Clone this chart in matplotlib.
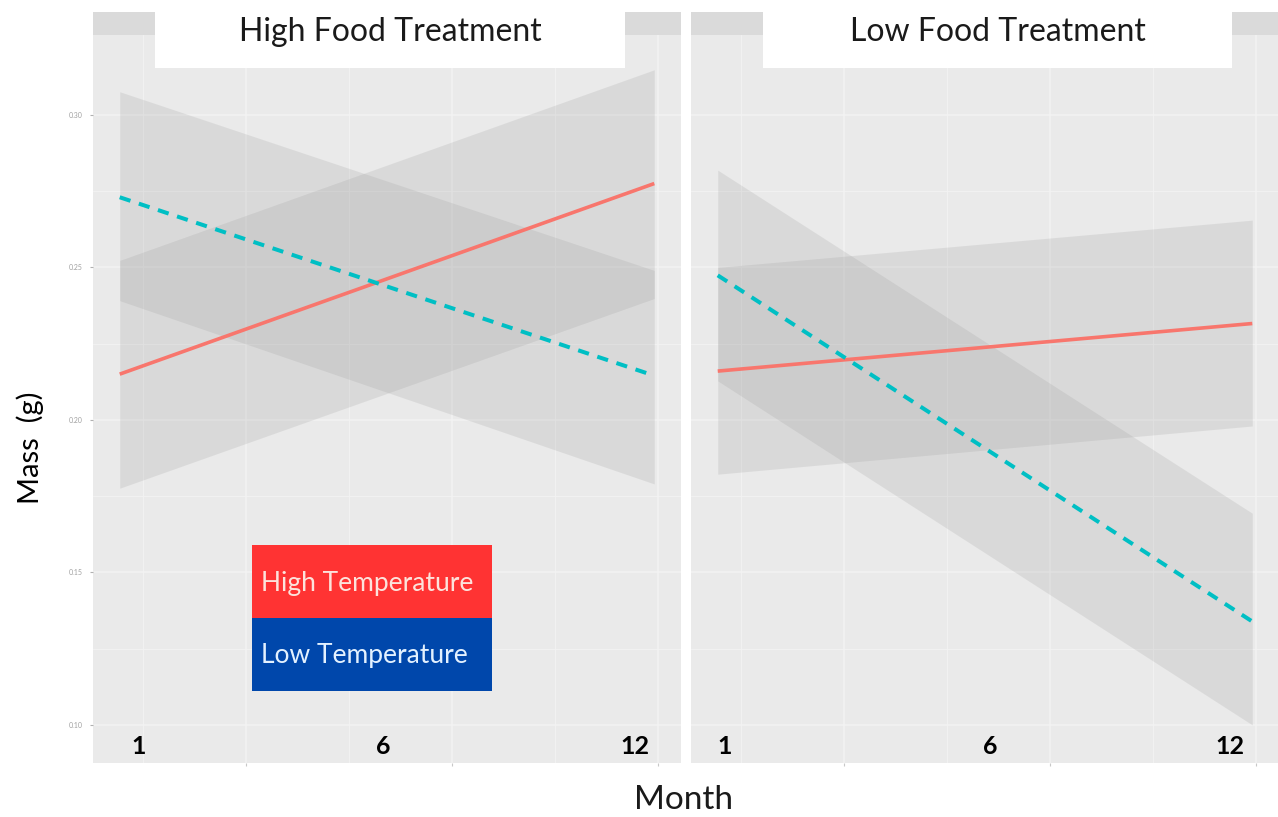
import matplotlib
matplotlib.use("Agg")
import matplotlib.pyplot as plt
from matplotlib.patches import Rectangle

plt.rcParams['font.family'] = ['Lato', 'DejaVu Sans']

# Fitted mass (g) at the first and last month, with confidence limits
months = [1, 12]

panels = ['High Food Treatment', 'Low Food Treatment']

high_temp_fit = {'High Food Treatment': [0.215, 0.2775], 'Low Food Treatment': [0.216, 0.2316]}
high_temp_lo = {'High Food Treatment': [0.1776, 0.2398], 'Low Food Treatment': [0.1822, 0.198]}
high_temp_hi = {'High Food Treatment': [0.2523, 0.3148], 'Low Food Treatment': [0.250, 0.2655]}

low_temp_fit = {'High Food Treatment': [0.273, 0.2145], 'Low Food Treatment': [0.2474, 0.1339]}
low_temp_lo = {'High Food Treatment': [0.2391, 0.179], 'Low Food Treatment': [0.2128, 0.1000]}
low_temp_hi = {'High Food Treatment': [0.3076, 0.249], 'Low Food Treatment': [0.2819, 0.1694]}

y_ticks = [0.10, 0.15, 0.20, 0.25, 0.30]
month_labels = ['1', '6', '12']
legend_labels = ['High Temperature', 'Low Temperature']

W, H = 1278, 817
fig = plt.figure(figsize=(W / 100, H / 100), dpi=100)

def fx(px):
    return px / W

def fy(py):
    return 1 - py / H

bg = '#EAEAEA'
grid_col = '#F3F3F3'
panel_left = [93, 691]
panel_w = 588
panel_top, panel_bot = 35, 763

# grid positions in month units (major every ~4.24 months)
major_x = [3.59, 7.83, 12.07]
minor_x = [1.47, 5.71, 9.95]
minor_y = [0.125, 0.175, 0.225, 0.275]

# where the month numbers sit inside each panel (axes fraction)
month_label_pos = [[0.077, 0.494, 0.922], [0.058, 0.509, 0.917]]

axes = []
for i, name in enumerate(panels):
    ax = fig.add_axes([fx(panel_left[i]), fy(panel_bot), panel_w / W, (panel_bot - panel_top) / H])
    ax.set_facecolor(bg)
    ax.set_xlim(0.45, 12.55)
    ax.set_ylim(0.0875, 0.3262)
    for s in ax.spines.values():
        s.set_visible(False)
    for x in major_x:
        ax.axvline(x, color=grid_col, lw=1.1, zorder=0)
    for x in minor_x:
        ax.axvline(x, color=grid_col, lw=0.6, zorder=0)
    for y in y_ticks:
        ax.axhline(y, color=grid_col, lw=1.1, zorder=0)
    for y in minor_y:
        ax.axhline(y, color=grid_col, lw=0.6, zorder=0)

    # confidence bands
    ax.fill_between(months, high_temp_lo[name], high_temp_hi[name], color='#999999', alpha=0.2, lw=0, zorder=1)
    ax.fill_between(months, low_temp_lo[name], low_temp_hi[name], color='#999999', alpha=0.2, lw=0, zorder=1)

    # fitted lines
    ax.plot(months, high_temp_fit[name], color='#F8766D', lw=2.6, solid_capstyle='butt', zorder=3)
    ax.plot(months, low_temp_fit[name], color='#00BFC4', lw=2.9, linestyle=(0, (2.8, 2.2)), zorder=3)

    ax.set_xticks(major_x)
    ax.set_xticklabels([])
    ax.tick_params(axis='x', length=2, color='#C8C8C8')
    ax.set_yticks(y_ticks)
    if i == 0:
        ax.set_yticklabels(['%.2f' % v for v in y_ticks], fontsize=5, color='#A0A0A0')
        ax.tick_params(axis='y', length=2.5, color='#B0B0B0', pad=5)
    else:
        ax.set_yticklabels([])
        ax.tick_params(axis='y', length=0)

    for lab, xpos in zip(month_labels, month_label_pos[i]):
        ax.text(xpos, 0.022, lab, transform=ax.transAxes, ha='center', va='center',
                fontsize=18, fontweight='bold', color='black', zorder=5)
    axes.append(ax)

# facet strips with white title boxes
strip_boxes = [(155, 625), (763, 1232)]
for i, name in enumerate(panels):
    fig.patches.append(Rectangle((fx(panel_left[i]), fy(35)), panel_w / W, 23 / H,
                                 transform=fig.transFigure, facecolor='#DADADA', edgecolor='none'))
    x0, x1 = strip_boxes[i]
    fig.patches.append(Rectangle((fx(x0), fy(68)), (x1 - x0) / W, 68 / H,
                                 transform=fig.transFigure, facecolor='white', edgecolor='none', zorder=2))
    fig.text(fx((x0 + x1) / 2), fy(32), name, ha='center', va='center', fontsize=23, color='#1a1a1a', zorder=3)

# temperature key
key_colors = ['#FF3333', '#0047AB']
key_text_colors = ['#FCE3DC', '#E3F1FF']
for j, lab in enumerate(legend_labels):
    top = 545 + j * 73
    fig.patches.append(Rectangle((fx(252), fy(top + 73)), 240 / W, 73 / H,
                                 transform=fig.transFigure, facecolor=key_colors[j], edgecolor='none', zorder=4))
    fig.text(fx(261), fy(top + 38), lab, ha='left', va='center', fontsize=19,
             color=key_text_colors[j], zorder=5)

fig.text(fx(30), fy(448), 'Mass  (g)', rotation=90, ha='center', va='center', fontsize=21, color='black')
fig.text(fx(683), fy(800), 'Month', ha='center', va='center', fontsize=24, color='#1a1a1a')

fig.savefig('out.png', dpi=100, facecolor='white')
